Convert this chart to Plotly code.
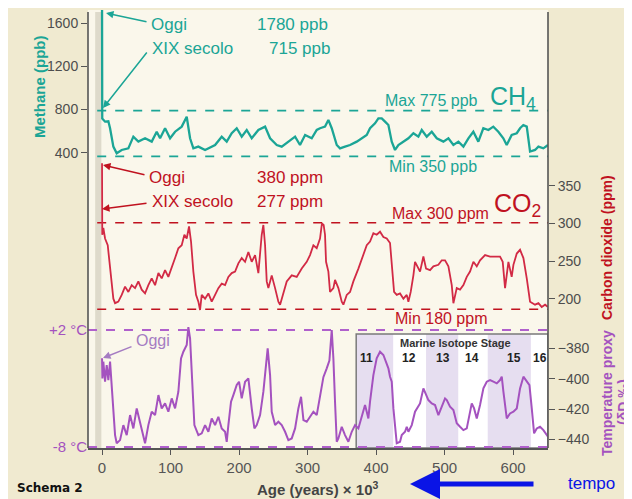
import plotly.graph_objects as go

# ---------------- data ----------------
ch4_age = [0, 0.3, 4.4, 9.2, 11.7, 16.5, 21.4, 28.7, 38.4, 45.7, 53, 62.8, 72.5, 79.8, 84.7, 92, 99.3, 106.6, 116.3, 123.6,
           128.5, 133.3, 140.6, 150.4, 165, 174.7, 182, 189.3, 196.6, 203.9, 211.2, 218.5, 228.2, 238, 245.3, 255, 262.3, 272,
           281.8, 289, 296.4, 306.1, 313.4, 318.2, 325.5, 330.4, 335.3, 342.6, 347.4, 354.7, 362, 371.8, 379.1, 386.4, 391.2,
           398.5, 403.4, 408.3, 413.1, 418, 422.9, 427.7, 432.6, 439.9, 447.2, 454.5, 461.8, 466.7, 474, 481.3, 488.6, 498.3,
           505.6, 512.9, 520.2, 527.5, 534.8, 542, 549.3, 556.6, 564, 571.2, 578.5, 585.8, 590.7, 598, 605.4, 610.2, 615, 620,
           624.8, 632.1, 637, 644.2, 651]
ch4_ppb = [1780, 715, 687, 690, 626, 456, 394, 425, 440, 548, 502, 533, 502, 594, 533, 626, 533, 594, 641, 733,
           533, 440, 456, 425, 471, 548, 502, 580, 626, 548, 610, 533, 610, 641, 533, 471, 456, 502, 548, 471,
           564, 533, 610, 626, 641, 703, 626, 471, 440, 456, 471, 502, 533, 564, 626, 672, 718, 718, 687, 656,
           502, 425, 471, 502, 533, 580, 548, 610, 548, 594, 533, 502, 533, 471, 502, 456, 533, 594, 502, 626,
           610, 641, 594, 533, 471, 564, 580, 626, 656, 641, 410, 425, 456, 440, 471]

co2_age = [0, 0.3, 1.9, 4.4, 8.3, 10.2, 14.1, 16.5, 19, 23.8, 28.7, 33.6, 38.4, 43.3, 48.2, 53, 57.9, 62.8, 67.6, 72.5,
           77.4, 82.3, 87.1, 92, 96.8, 101.7, 106.6, 111.4, 116.3, 120.2, 123.6, 127, 129.9, 133.3, 137.2, 140.6, 143.1,
           145.5, 150.4, 155.2, 160.1, 165, 169.8, 174.7, 179.6, 184.4, 189.3, 194.2, 199, 203.9, 208.8, 213.6, 218.5,
           223.4, 228.2, 233.1, 235.5, 238, 240.4, 242.8, 247.7, 252.6, 257.4, 259.9, 264.7, 269.6, 276.9, 284.2, 291.5,
           298.8, 303.6, 308.5, 313.4, 318.2, 321, 323.5, 325.5, 327, 330.4, 332.8, 337.7, 340.1, 345, 349.9, 352.3,
           357.2, 362, 366.9, 374.2, 381.5, 386.4, 391.2, 396.1, 400.9, 405.8, 410.7, 415.6, 420.4, 422.9, 426.3, 430.2,
           435, 439.9, 444.8, 447.2, 450.6, 454.5, 456.9, 460.3, 464.2, 469.1, 473, 478.8, 483.7, 491, 495.9, 500.7,
           505.6, 510.5, 512.9, 517.8, 522.6, 527.5, 532.4, 537.2, 542.1, 547, 551.8, 559.1, 566.4, 573.7, 581, 584.9,
           588.3, 593.2, 598, 600.5, 605.4, 610.2, 615.1, 620, 624.8, 632.1, 637, 641.8, 646.7, 651]
co2_ppm = [380, 285, 294, 280, 271, 254, 227, 200, 194, 196, 205, 216, 209, 218, 214, 223, 212, 207, 218, 227,
           218, 234, 227, 238, 229, 243, 254, 267, 271, 285, 280, 296, 276, 236, 205, 196, 185, 205, 200, 207,
           196, 205, 214, 220, 218, 229, 234, 236, 247, 254, 249, 262, 249, 258, 234, 285, 298, 271, 223, 214,
           231, 214, 196, 192, 209, 223, 231, 229, 240, 249, 258, 271, 267, 280, 300, 298, 285, 249, 236, 209,
           214, 225, 214, 196, 192, 205, 209, 223, 240, 258, 271, 276, 287, 285, 289, 282, 280, 274, 249, 209,
           205, 207, 200, 205, 196, 209, 231, 249, 243, 236, 256, 240, 238, 243, 245, 251, 251, 243, 218, 194,
           214, 212, 218, 229, 236, 249, 243, 251, 258, 256, 256, 256, 249, 214, 249, 229, 245, 260, 265, 254,
           227, 196, 192, 194, 189, 192, 189]

temp_age = [0, 0.5, 1.9, 4.4, 6.8, 9.2, 11.7, 14.1, 16.5, 19, 21.4, 26.3, 31.1, 36, 40.9, 45.7, 50.6, 55.5, 60.3, 62.8,
            67.6, 72.5, 77.4, 82.3, 87.1, 92, 96.8, 101.7, 106.6, 111.4, 115.3, 118.7, 123.6, 126, 128.5, 130.9, 134.8,
            140.6, 145.5, 150.4, 155.2, 160.1, 165, 169.8, 174.7, 179.6, 182, 184.4, 188.3, 191.7, 196.6, 200, 203.9,
            208.8, 213.6, 218.5, 222.4, 225.8, 230.7, 235.5, 238.9, 241.8, 245.3, 247.7, 252.6, 257.4, 262.3, 267.2,
            272, 276.9, 281.8, 286.6, 290.5, 294, 298.8, 303.6, 308.5, 313.4, 318.2, 323.1, 328, 331.9, 335.3, 337.7,
            340.1, 342.6, 345, 349.9, 354.7, 359.6, 364.5, 369.3, 374.2, 379.1, 383.9, 386.4, 388.8, 391.2, 396.1,
            400.9, 405.8, 410.7, 415.6, 418, 420.4, 422.9, 425.3, 427.7, 430.2, 435, 437.5, 442.3, 444.8, 447.2,
            452.1, 456.9, 460.3, 464.2, 469.1, 473, 476.4, 481.3, 486.1, 491, 495.9, 500.7, 503.2, 508, 512.9, 517.8,
            522.6, 527.5, 532.4, 537.2, 539.7, 543.1, 547, 551.8, 556.7, 561.6, 566.4, 571.3, 576.2, 581, 583.5, 585.9,
            590.8, 595.6, 600.5, 605.4, 610.2, 615.1, 620, 623.9, 627.3, 630.7, 634.6, 639.4, 644.3, 649.1, 651]
temp_dD = [-386.6, -399.8, -388.8, -402, -391, -400.9, -388.8, -404.2, -421.8, -437.2, -442.6, -440.5, -430.6, -437.2,
           -424, -432.8, -419.6, -428.4, -437.2, -442.6, -430.6, -421.8, -424, -410.8, -419.6, -416.3, -421.8, -413,
           -419.6, -408.6, -386.6, -382.2, -377.8, -366, -373.4, -395.4, -430.6, -437.2, -436, -430.6, -435, -426.2,
           -430.6, -425.1, -432.8, -435, -441.6, -430.6, -415.2, -410.8, -404.2, -402, -413, -402, -399.8, -419.6,
           -432.8, -430.6, -424, -408.6, -393.2, -380, -397.6, -421.8, -430.6, -428.4, -430.6, -435, -440.5, -439.4,
           -432.8, -419.6, -411.9, -427.3, -428.4, -425.1, -421.8, -424, -412, -399, -393.2, -388, -367.9, -386.6,
           -415.2, -441.6, -439.4, -431.7, -437.2, -441.6, -435, -430.6, -432.8, -424, -417.4, -421.8, -426.2, -415.2,
           -397.6, -386.6, -382.2, -384.4, -391, -393.2, -398.7, -402, -419.6, -430.6, -442.6, -441.6, -437.2, -435,
           -431.7, -435, -430.6, -421.8, -419.6, -416.3, -406.4, -410.8, -414.1, -416.3, -417.4, -424, -418.5, -413,
           -414.1, -418.5, -420.7, -429.4, -431.7, -433.9, -432.8, -422.9, -416.3, -419.6, -426.2, -417.4, -406.4,
           -402, -400.9, -402, -403.1, -400.9, -398.7, -408.6, -426.2, -422.9, -421.8, -419.6, -406.4, -398.7, -402,
           -404.2, -419.6, -436, -432.8, -431.7, -433.9, -437.2, -438.3]

ch4_ref = [790, 365]          # dashed lines as drawn (Max / Min)
co2_ref = [301, 186]
temp_ref_c = [2, -8]

x_ticks = [0, 100, 200, 300, 400, 500, 600]
ch4_ticks = [400, 800, 1200, 1600]
co2_ticks = [200, 250, 300, 350]
dD_ticks = [-380, -400, -420, -440]

mis_labels = ["11", "12", "13", "14", "15", "16"]
mis_bounds = [371, 425, 473, 520, 563, 626, 651]

# ---------------- styling ----------------
TEAL = "#1ba596"
RED = "#d22a45"
RED_T = "#c0121f"
PURP = "#a452bf"
GRAY = "#4d4d4d"
FONT = "Liberation Sans, Arial, sans-serif"

# the page body has an 8px margin: the figure sits at (8, 8) in the window
OFF = 8
W, H = 632 - OFF, 499 - OFF
L, R, T, B = 88 - OFF, 84, 10 - OFF, 51


def P(xp, yp):
    """reference window pixel -> paper coordinates"""
    xp -= OFF
    yp -= OFF
    return (xp - L) / (W - L - R), ((H - B) - yp) / (H - T - B)


fig = go.Figure()
fig.add_trace(go.Scatter(x=ch4_age, y=ch4_ppb, yaxis="y", mode="lines",
                         line=dict(color=TEAL, width=2.3), hoverinfo="skip"))
fig.add_trace(go.Scatter(x=co2_age, y=co2_ppm, yaxis="y2", mode="lines",
                         line=dict(color=RED, width=1.8), hoverinfo="skip"))
fig.add_trace(go.Scatter(x=temp_age, y=temp_dD, yaxis="y3", mode="lines",
                         line=dict(color=PURP, width=2.0), hoverinfo="skip"))

d_top = P(0, 160)[1]
d_mid = P(0, 318)[1]

fig.update_layout(
    width=W, height=H, margin=dict(l=L, r=R, t=T, b=B),
    paper_bgcolor="#f0ead0", plot_bgcolor="#faf7eb",
    showlegend=False, font=dict(family=FONT, color=GRAY),
    xaxis=dict(domain=[0, 1], anchor="y3", range=[-20.5, 651], tickvals=x_ticks,
               ticks="outside", ticklen=5, tickcolor="#555", showline=True, linecolor="#555", linewidth=1.5,
               showgrid=False, zeroline=False, tickfont=dict(size=15, color="#555")),
    yaxis=dict(domain=[d_top, 1], anchor="x", side="left", range=[332, 1721], tickvals=ch4_ticks,
               ticks="outside", ticklen=6, tickcolor="#555", showgrid=False, zeroline=False,
               tickfont=dict(size=14, color=GRAY)),
    yaxis2=dict(domain=[d_mid, d_top], anchor="x", side="right", range=[174.3, 384.4], tickvals=co2_ticks,
                ticks="outside", ticklen=6, tickcolor="#555", showgrid=False, zeroline=False,
                tickfont=dict(size=14, color=GRAY)),
    yaxis3=dict(domain=[0, d_mid], anchor="x", side="right", range=[-445.7, -360], tickvals=dD_ticks,
                ticks="outside", ticklen=6, tickcolor="#555", showgrid=False, zeroline=False,
                tickfont=dict(size=14, color=GRAY)),
    yaxis4=dict(overlaying="y3", anchor="x", side="left", range=[-8.085, 3.026], tickvals=temp_ref_c,
                ticktext=["+2 °C", "-8 °C"], ticks="", showgrid=False, zeroline=False,
                tickfont=dict(size=15, color=PURP)),
)

shapes = []
# grey shadow strip left of age 0
shapes.append(dict(type="rect", xref="x", yref="paper", x0=-10, x1=-1, y0=0, y1=P(0, 12)[1],
                   fillcolor="#dedacb", line=dict(width=0), layer="below"))
# Marine isotope stage inset
box_top = P(0, 334)[1]
shapes.append(dict(type="rect", xref="x", yref="paper", x0=mis_bounds[0], x1=mis_bounds[-1], y0=0, y1=box_top,
                   fillcolor="white", line=dict(width=0), layer="below"))
for i in (0, 2, 4):
    shapes.append(dict(type="rect", xref="x", yref="paper", x0=mis_bounds[i], x1=mis_bounds[i + 1], y0=0,
                       y1=box_top, fillcolor="#e6def0", line=dict(width=0), layer="below"))
shapes.append(dict(type="rect", xref="x", yref="paper", x0=mis_bounds[0], x1=mis_bounds[-1], y0=0, y1=box_top,
                   fillcolor="rgba(0,0,0,0)", line=dict(width=1.5, color="#7a7a7a"), layer="below"))
# dashed reference lines
for v in ch4_ref:
    shapes.append(dict(type="line", xref="paper", yref="y", x0=0.02, x1=1, y0=v, y1=v,
                       line=dict(color=TEAL, width=1.8, dash="dash"), layer="below"))
for v in co2_ref:
    shapes.append(dict(type="line", xref="paper", yref="y2", x0=0.02, x1=1, y0=v, y1=v,
                       line=dict(color=RED_T, width=1.5, dash="dash"), layer="below"))
for v in temp_ref_c:
    shapes.append(dict(type="line", xref="paper", yref="y4", x0=0, x1=1, y0=v, y1=v,
                       line=dict(color="#b060cc", width=1.8, dash="dash"), layer="below"))
# axis lines left / right spanning all panels
ytop = P(0, 12)[1]
for xx in (0, 1):
    shapes.append(dict(type="line", xref="paper", yref="paper", x0=xx, x1=xx, y0=0, y1=ytop,
                       line=dict(color="#555", width=1.6)))
fig.update_layout(shapes=shapes)


def txt(xp, yp, s, color, size, bold=False, angle=0, family=FONT, xanchor="center"):
    x, y = P(xp, yp)
    if bold:
        s = "<b>" + s + "</b>"
    fig.add_annotation(x=x, y=y, xref="paper", yref="paper", text=s, showarrow=False,
                       font=dict(size=size, color=color, family=family), textangle=angle,
                       xanchor=xanchor, yanchor="middle")


def arrow(xt, yt, xh, yh, color, width=1.5, head=2, size=1.0):
    x, y = P(xh, yh)
    fig.add_annotation(x=x, y=y, xref="paper", yref="paper", ax=xt - xh, ay=yt - yh,
                       axref="pixel", ayref="pixel", text="", showarrow=True, arrowhead=head,
                       arrowsize=size, arrowwidth=width, arrowcolor=color)


# methane annotations
txt(169, 24, "Oggi", TEAL, 17)
txt(192, 48, "XIX secolo", TEAL, 17)
txt(292, 24, "1780 ppb", TEAL, 17)
txt(299, 48, "715 ppb", TEAL, 17)
arrow(148, 22, 106, 13, TEAL)
arrow(148, 51, 103, 108, TEAL)
txt(431, 100, "Max 775 ppb", TEAL, 16)
txt(513, 98, "CH<sub>4</sub>", TEAL, 25)
txt(433, 166, "Min 350 ppb", TEAL, 16)

# CO2 annotations
txt(167, 177, "Oggi", RED_T, 17)
txt(192, 201, "XIX secolo", RED_T, 17)
txt(290, 177, "380 ppm", RED_T, 17)
txt(290, 201, "277 ppm", RED_T, 17)
arrow(146, 175, 103, 165, RED_T)
arrow(148, 203, 102, 209, RED_T)
txt(440, 213, "Max 300 ppm", RED_T, 16)
txt(517, 205, "CO<sub>2</sub>", RED_T, 25)
txt(441, 318, "Min 180 ppm", RED_T, 16)

# temperature annotations
txt(153, 340, "Oggi", "#a57cc2", 16)
arrow(133, 346, 103, 358, "#a57cc2")
txt(455, 343, "Marine Isotope Stage", "#333", 11, bold=True)
mis_x = [366, 409, 443, 472, 514, 540]
for lab, xp in zip(mis_labels, mis_x):
    txt(xp, 358, lab, "#222", 12, bold=True)

# axis titles
txt(40, 87, "Methane (ppb)", TEAL, 15, bold=True, angle=-90)
txt(607, 248, "Carbon dioxide (ppm)", RED_T, 14, bold=True, angle=-90)
txt(607, 393, "Temperature proxy", PURP, 14, bold=True, angle=-90)
txt(623, 402, "(δD ‰)", PURP, 14, bold=True, angle=-90)
txt(317, 488, "Age (years) × 10<sup>3</sup>", "#444", 15, bold=True)
txt(50, 488, "Schema 2", "#111", 12, bold=True, family="DejaVu Sans, sans-serif")

# tempo arrow
arrow(535, 484, 410, 484, "#0a14e6", width=5, head=2, size=1.2)
txt(591, 483, "tempo", "#0a14e6", 17)

fig.write_html("out.html")
